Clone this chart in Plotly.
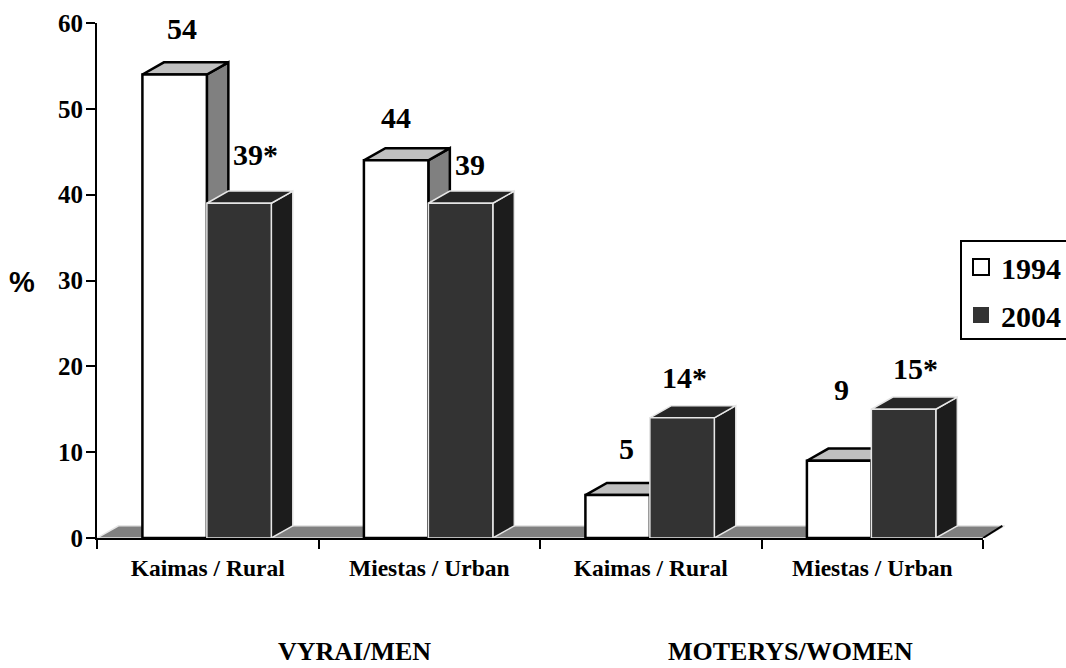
import plotly.graph_objects as go

# ---- data ----
positions = [0, 1, 2, 3]
categories = ["Kaimas / Rural", "Miestas / Urban", "Kaimas / Rural", "Miestas / Urban"]
values_1994 = [54, 44, 5, 9]
values_2004 = [39, 39, 14, 15]
labels_1994 = ["54", "44", "5", "9"]
labels_2004 = ["39*", "39", "14*", "15*"]
y_ticks = [0, 10, 20, 30, 40, 50, 60]
group_labels = ["VYRAI/MEN", "MOTERYS/WOMEN"]

# ---- appearance ----
W, H = 1066, 668
ML, MR, MT, MB = 97, 60, 23, 130
AXIS_W = 886         # pixel length of the visible category axis
PLOT_W = W - ML - MR
PLOT_H = H - MT - MB
BAR_W = 0.291
BAR_START = 0.205
DX = 0.097
DY = 1.42
SERIF = "Liberation Serif"
SANS = "Liberation Sans"


def px(x):
    return (x - ML) / PLOT_W


def py(y):
    return (H - MB - y) / PLOT_H


fig = go.Figure()


def poly(xs, ys, fill, line, width=2.0):
    fig.add_trace(go.Scatter(
        x=xs, y=ys, mode="lines", fill="toself", fillcolor=fill,
        line=dict(color=line, width=width), showlegend=False,
        hoverinfo="skip", cliponaxis=False))


def bar3d(x0, v, front, top, side, edge, side_edge, width):
    x1 = x0 + BAR_W
    poly([x1, x1 + DX, x1 + DX, x1, x1], [0, DY, v + DY, v, 0], side, side_edge, width)
    poly([x0, x0 + DX, x1 + DX, x1, x0], [v, v + DY, v + DY, v, v], top, side_edge, width)
    poly([x0, x0, x1, x1, x0], [0, v, v, 0, 0], front, edge, width)


# floor
xmax = len(positions)
poly([0, DX, xmax + DX, xmax, 0], [0, DY, DY, 0, 0], "#808080", "#e6e6e6", 1.5)
fig.add_trace(go.Scatter(x=[xmax, xmax + DX * 0.9], y=[0, DY], mode="lines",
                         line=dict(color="black", width=2), showlegend=False,
                         hoverinfo="skip"))

for p, a, b in zip(positions, values_1994, values_2004):
    bar3d(p + BAR_START, a, "#ffffff", "#c0c0c0", "#808080", "#000000", "#000000", 2.5)
    bar3d(p + BAR_START + BAR_W, b, "#333333", "#262626", "#1c1c1c", "#e6e6e6", "#e6e6e6", 1.5)

# keeps the visible category axis alive
fig.add_trace(go.Scatter(x=[0, xmax], y=[None, None], xaxis="x2", mode="lines",
                         showlegend=False, hoverinfo="skip"))

# legend entries
fig.add_trace(go.Scatter(x=[None], y=[None], mode="markers", name="1994", legendgroup="a",
                         marker=dict(symbol="square", size=18, color="white",
                                     line=dict(color="black", width=2))))
fig.add_trace(go.Scatter(x=[None], y=[None], mode="markers", name="2004", legendgroup="b",
                         marker=dict(symbol="square", size=16, color="#333333",
                                     line=dict(color="#333333", width=0))))

# value labels: pixel offsets from the bar's front-top centre
shift_1994 = [(7, 46), (0, 43), (9, 47), (2, 71)]
shift_2004 = [(16, 49), (9, 39), (2, 40), (12, 41)]
annotations = []
for p, v, t, s in zip(positions, values_1994, labels_1994, shift_1994):
    annotations.append(dict(x=p + BAR_START + BAR_W / 2, y=v, xref="x", yref="y", text=f"<b>{t}</b>",
                            showarrow=False, xshift=s[0], yshift=s[1],
                            font=dict(family=SERIF, size=30, color="black")))
for p, v, t, s in zip(positions, values_2004, labels_2004, shift_2004):
    annotations.append(dict(x=p + BAR_START + 1.5 * BAR_W, y=v, xref="x", yref="y", text=f"<b>{t}</b>",
                            showarrow=False, xshift=s[0], yshift=s[1],
                            font=dict(family=SERIF, size=30, color="black")))
annotations.append(dict(x=px(22), y=py(282), xref="paper", yref="paper", text="<b>%</b>",
                        xanchor="center", yanchor="middle", showarrow=False,
                        font=dict(family=SANS, size=29, color="black")))
for t, x_left in zip(group_labels, [277, 667]):
    annotations.append(dict(x=px(x_left), y=py(667), xref="paper", yref="paper", text=f"<b>{t}</b>",
                            xanchor="left", yanchor="bottom", showarrow=False, borderpad=0,
                            font=dict(family=SERIF, size=26, color="black")))

fig.update_layout(
    width=W, height=H, autosize=False,
    margin=dict(l=ML, r=MR, t=MT, b=MB, pad=0, autoexpand=False),
    paper_bgcolor="white", plot_bgcolor="rgba(0,0,0,0)",
    font=dict(family=SERIF, color="black"),
    hovermode=False,
    annotations=annotations,
    shapes=[dict(type="rect", xref="paper", yref="paper", x0=px(961), x1=px(1075),
                 y0=py(339), y1=py(241), line=dict(color="black", width=2),
                 fillcolor="white", layer="below")],
    legend=dict(
        x=px(961), xanchor="left", y=py(241), yanchor="top",
        borderwidth=0, bgcolor="rgba(0,0,0,0)",
        font=dict(family=SERIF, size=30, color="black", weight="bold"),
        tracegroupgap=6, itemwidth=30,
    ),
    xaxis=dict(range=[0, xmax * PLOT_W / AXIS_W], visible=False, fixedrange=True),
    xaxis2=dict(
        domain=[0, AXIS_W / PLOT_W], anchor="y", range=[0, xmax],
        showgrid=False, zeroline=False, fixedrange=True,
        showline=True, linecolor="black", linewidth=2,
        tickmode="array", tickvals=[p + 0.5 for p in positions],
        ticktext=[f"<b>{c}</b>" for c in categories],
        ticks="outside", ticklen=0, ticklabelstandoff=8,
        tickfont=dict(family=SERIF, size=23.5, color="black"),
        minor=dict(tickmode="array", tickvals=positions + [xmax], ticks="outside",
                   ticklen=9, tickwidth=2, tickcolor="black", showgrid=False),
    ),
    yaxis=dict(
        range=[0, 60], showgrid=False, zeroline=False, fixedrange=True,
        showline=True, linecolor="black", linewidth=2,
        tickmode="array", tickvals=y_ticks, ticktext=[f"<b>{v}</b>" for v in y_ticks],
        ticks="outside", ticklen=9, tickwidth=2, tickcolor="black", ticklabelstandoff=-2,
        tickfont=dict(family=SERIF, size=25, color="black"),
    ),
)

fig.write_html("out.html", config={"displayModeBar": False},
               post_script="document.body.style.margin='0';")
